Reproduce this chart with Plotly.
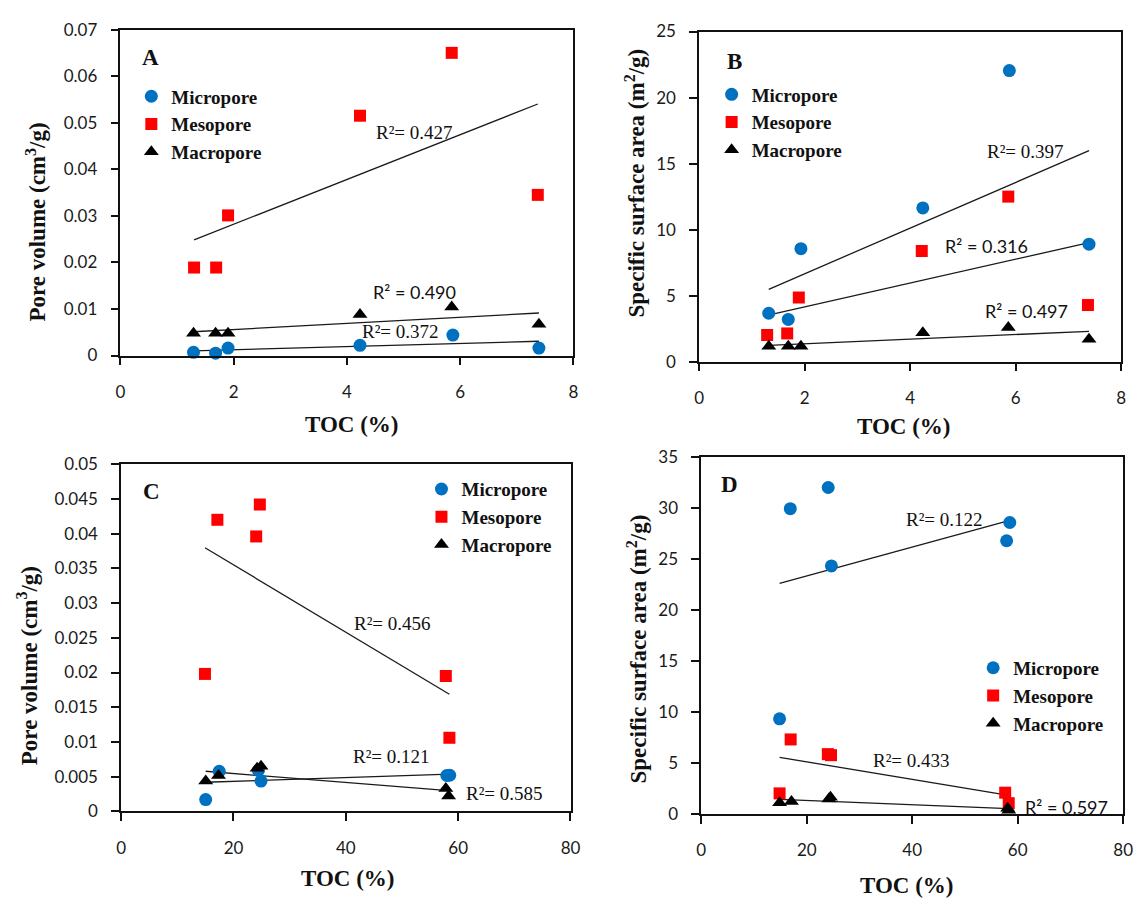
import numpy as np
import plotly.graph_objects as go

W, H = 1146, 908

# ---------------- data ----------------
# Panel A: pore volume (cm3/g) vs TOC (%)
a_toc_micro = [1.29, 1.68, 1.90, 4.23, 5.87, 7.39]
a_micro = [0.0007, 0.0005, 0.0016, 0.0022, 0.0044, 0.0016]
a_toc_meso = [1.30, 1.69, 1.90, 4.23, 5.85, 7.37]
a_meso = [0.0189, 0.0189, 0.0301, 0.0515, 0.0650, 0.0345]
a_toc_macro = [1.29, 1.68, 1.90, 4.23, 5.85, 7.39]
a_macro = [0.0048, 0.0048, 0.0048, 0.0088, 0.0104, 0.0067]
a_r2 = ["R²= 0.372", "R²= 0.427", "R² = 0.490"]

# Panel B: specific surface area (m2/g) vs TOC (%)
b_toc_micro = [1.32, 1.69, 1.93, 4.24, 5.88, 7.39]
b_micro = [3.67, 3.20, 8.56, 11.64, 22.04, 8.90]
b_toc_meso = [1.29, 1.67, 1.89, 4.22, 5.86, 7.37]
b_meso = [2.02, 2.14, 4.86, 8.38, 12.50, 4.29]
b_toc_macro = [1.32, 1.69, 1.93, 4.24, 5.86, 7.39]
b_macro = [1.16, 1.16, 1.16, 2.19, 2.59, 1.70]
b_r2 = ["R²= 0.397", "R² = 0.316", "R² = 0.497"]

# Panel C: pore volume (cm3/g) vs TOC (%)
c_toc_micro = [15.05, 17.46, 24.43, 24.90, 57.98, 58.50]
c_micro = [0.0017, 0.00577, 0.0059, 0.00436, 0.00516, 0.0052]
c_toc_meso = [14.92, 17.13, 24.04, 24.69, 57.80, 58.44]
c_meso = [0.0198, 0.0420, 0.0396, 0.0442, 0.0195, 0.0106]
c_toc_macro = [15.05, 17.33, 24.20, 24.90, 57.80, 58.30]
c_macro = [0.00436, 0.00516, 0.0062, 0.0065, 0.0033, 0.0022]
c_r2 = ["R²= 0.121", "R²= 0.456", "R²= 0.585"]

# Panel D: specific surface area (m2/g) vs TOC (%)
d_toc_micro = [14.85, 16.88, 24.07, 24.68, 57.90, 58.50]
d_micro = [9.36, 29.97, 32.05, 24.36, 26.83, 28.62]
d_toc_meso = [14.85, 16.95, 24.00, 24.60, 57.63, 58.30]
d_meso = [2.05, 7.34, 5.90, 5.80, 2.12, 1.09]
d_toc_macro = [14.85, 17.10, 24.20, 24.50, 58.10, 58.30]
d_macro = [1.12, 1.25, 1.50, 1.67, 0.60, 0.40]
d_r2 = ["R²= 0.122", "R²= 0.433", "R² = 0.597"]

series_names = ["Micropore", "Mesopore", "Macropore"]
panel_letters = ["A", "B", "C", "D"]
x_title = "TOC (%)"
y_titles = ["Pore volume (cm<sup>3</sup>/g)", "Specific surface area (m<sup>2</sup>/g)",
            "Pore volume (cm<sup>3</sup>/g)", "Specific surface area (m<sup>2</sup>/g)"]

# ---------------- styling ----------------
COLORS = ["#0070C0", "#FF0000", "#000000"]
SYMBOLS = ["circle", "square", "triangle-up"]
SIZES = [13, 12, 13]
SERIF = "Liberation Serif"
SANS = "Lato"


def px(x):
    return x / W


def py(y):
    return 1 - y / H


panels = [
    dict(data=[(a_toc_micro, a_micro), (a_toc_meso, a_meso), (a_toc_macro, a_macro)],
         r2=a_r2, r2pos=[(4.94, 0.0051), (5.19, 0.0478), (5.19, 0.01372)],
         r2font=[SERIF, SERIF, SANS],
         dom=((117, 576), (19, 352.7)), xr=(0, 8), xd=2, yr=(0, 0.07), yd=0.01,
         legend=(128, 68), letter=(147, 48), ytitle=(31, 216), xtitle=(352, 423)),
    dict(data=[(b_toc_micro, b_micro), (b_toc_meso, b_meso), (b_toc_macro, b_macro)],
         r2=b_r2, r2pos=[(6.18, 15.95), (5.44, 8.75), (6.20, 3.87)],
         r2font=[SERIF, SANS, SANS],
         dom=((703.3, 1131), (21, 359)), xr=(0, 8), xd=2, yr=(0, 25), yd=5,
         legend=(716, 66), letter=(739, 52), ytitle=(639, 176), xtitle=(911, 425)),
    dict(data=[(c_toc_micro, c_micro), (c_toc_meso, c_meso), (c_toc_macro, c_macro)],
         r2=c_r2, r2pos=[(48.2, 0.00788), (48.3, 0.0271), (68.2, 0.00258)],
         r2font=[SERIF, SERIF, SERIF],
         dom=((117.7, 573), (464, 819.3)), xr=(0, 80), xd=20, yr=(0, 0.05), yd=0.005,
         legend=(422, 470), letter=(148, 492), ytitle=(23, 670), xtitle=(348, 888)),
    dict(data=[(d_toc_micro, d_micro), (d_toc_meso, d_meso), (d_toc_macro, d_macro)],
         r2=d_r2, r2pos=[(46.1, 28.9), (39.8, 5.29), (69.2, 0.70)],
         r2font=[SERIF, SERIF, SANS],
         dom=((705.5, 1133), (457, 822.3)), xr=(0, 80), xd=20, yr=(0, 35), yd=5,
         legend=(981, 653), letter=(734, 485), ytitle=(641, 653), xtitle=(914, 895)),
]

fig = go.Figure()
annotations = []
layout = dict(
    width=W, height=H,
    margin=dict(l=0, r=0, t=0, b=0),
    paper_bgcolor="white", plot_bgcolor="white",
    showlegend=True,
)

for i, p in enumerate(panels):
    k = "" if i == 0 else str(i + 1)
    xa, ya = "x" + k, "y" + k
    lg = "legend" + k
    # linear trend lines (least squares through each series)
    for j, (xs, ys) in enumerate(p["data"]):
        xs_a = np.array(xs)
        ys_a = np.array(ys)
        m, b = np.polyfit(xs_a, ys_a, 1)
        xl = np.array([xs_a.min(), xs_a.max()])
        fig.add_trace(go.Scatter(x=xl, y=m * xl + b, mode="lines",
                                 line=dict(color="#1a1a1a", width=1.3),
                                 xaxis=xa, yaxis=ya, showlegend=False, hoverinfo="skip"))
    # markers
    for j, (xs, ys) in enumerate(p["data"]):
        fig.add_trace(go.Scatter(x=xs, y=ys, mode="markers", name=series_names[j],
                                 marker=dict(color=COLORS[j], symbol=SYMBOLS[j], size=SIZES[j],
                                             line=dict(width=0)),
                                 cliponaxis=False, xaxis=xa, yaxis=ya, legend=lg))
    # R² labels
    for j, txt in enumerate(p["r2"]):
        fx, fy = p["r2pos"][j]
        annotations.append(dict(x=fx, y=fy, xref=xa, yref=ya, text=txt, showarrow=False,
                                xanchor="center", yanchor="middle",
                                font=dict(family=p["r2font"][j],
                                          size=19 if p["r2font"][j] == SERIF else 18,
                                          color="#111111")))
    (x0, x1), (y0, y1) = p["dom"]
    axis_common = dict(showline=True, linecolor="#111111", linewidth=1.6, mirror=True,
                       ticks="outside", ticklen=8, tickwidth=1.6, tickcolor="#111111",
                       showgrid=False, zeroline=False,
                       tickfont=dict(family=SANS, size=17, color="#1a1a1a"))
    layout["xaxis" + k] = dict(axis_common, domain=[px(x0), px(x1)], range=list(p["xr"]),
                               dtick=p["xd"], tick0=0, anchor=ya, ticklabelstandoff=12)
    layout["yaxis" + k] = dict(axis_common, domain=[py(y1), py(y0)], range=list(p["yr"]),
                               dtick=p["yd"], tick0=0, anchor=xa, ticklabelstandoff=10)
    lx, ly = p["legend"]
    layout[lg] = dict(x=px(lx), y=py(ly), xanchor="left", yanchor="top",
                      xref="paper", yref="paper",
                      bgcolor="rgba(0,0,0,0)", borderwidth=0, tracegroupgap=0,
                      font=dict(family=SERIF, size=19, color="#111111", weight="bold"))
    # panel letter
    lx2, ly2 = p["letter"]
    annotations.append(dict(x=px(lx2), y=py(ly2), xref="paper", yref="paper",
                            text="<b>%s</b>" % panel_letters[i],
                            xanchor="center", yanchor="middle", showarrow=False,
                            font=dict(family=SERIF, size=23, color="#111111")))
    # axis titles
    tx, ty = p["ytitle"]
    annotations.append(dict(x=px(tx), y=py(ty), xref="paper", yref="paper",
                            text="<b>%s</b>" % y_titles[i], textangle=-90,
                            xanchor="center", yanchor="middle", showarrow=False,
                            font=dict(family=SERIF, size=23, color="#111111")))
    tx, ty = p["xtitle"]
    annotations.append(dict(x=px(tx), y=py(ty), xref="paper", yref="paper",
                            text="<b>%s</b>" % x_title,
                            xanchor="center", yanchor="middle", showarrow=False,
                            font=dict(family=SERIF, size=23, color="#111111")))

layout["annotations"] = annotations
fig.update_layout(**layout)
fig.write_html("out.html", config={"displayModeBar": False},
               post_script="document.body.style.margin='0';document.body.style.overflow='hidden';")
